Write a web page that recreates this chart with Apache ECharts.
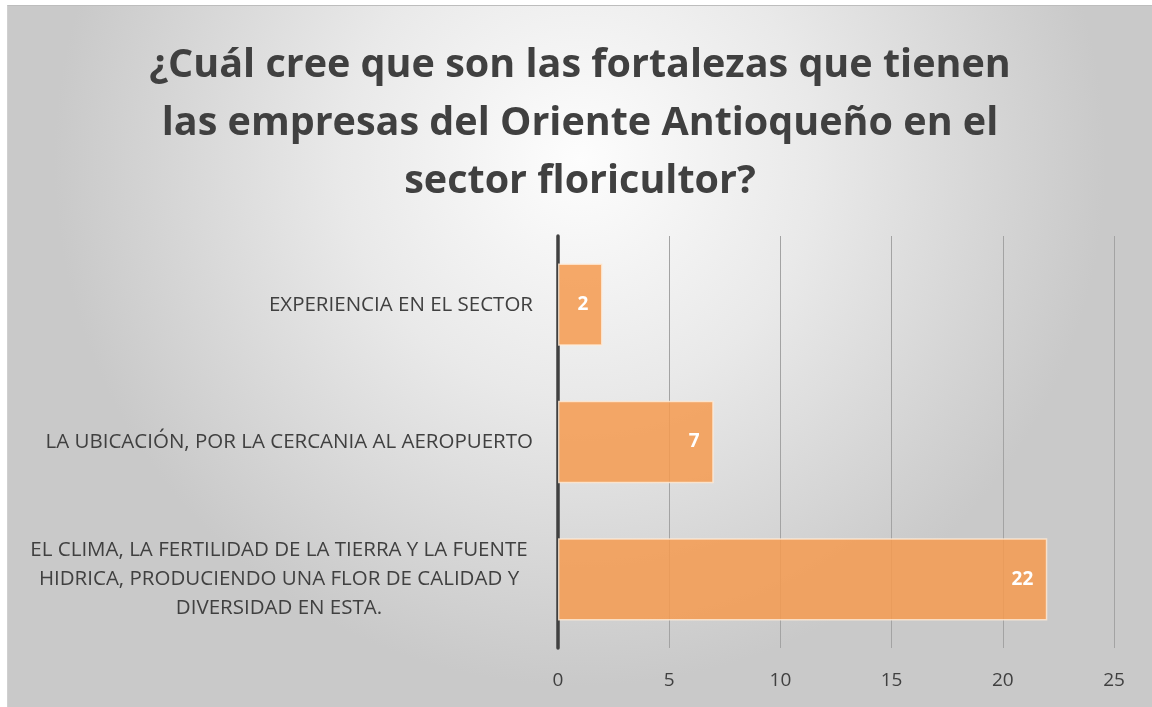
<!DOCTYPE html>
<html>
<head>
<meta charset="utf-8">
<script src="https://cdn.jsdelivr.net/npm/echarts@6/dist/echarts.min.js"></script>
<style>
  html, body { margin: 0; padding: 0; background: #ffffff; }
  #frame {
    position: absolute; left: 7px; top: 5px; width: 1145px; height: 702px;
    border-top: 1px solid #bdbdbd; border-left: 1px solid #d0d0d0; box-sizing: border-box;
  }
  #container { width: 100%; height: 100%; }
</style>
</head>
<body>
<div id="frame"><div id="container"></div></div>
<script>
// categorias de abajo hacia arriba (orden del eje en ECharts)
var categories = [
    'EL CLIMA, LA FERTILIDAD DE LA TIERRA Y LA FUENTE\nHIDRICA, PRODUCIENDO UNA FLOR DE CALIDAD Y\nDIVERSIDAD EN ESTA.',
    'LA UBICACIÓN, POR LA CERCANIA AL AEROPUERTO',
    'EXPERIENCIA EN EL SECTOR'
];
var values = [22, 7, 2];
var xTicks = [0, 5, 10, 15, 20, 25];

var chartTitle = '¿Cuál cree que son las fortalezas que tienen\nlas empresas del Oriente Antioqueño en el\nsector floricultor?';

var dom = document.getElementById('container');
var myChart = echarts.init(dom);

var option = {
    backgroundColor: new echarts.graphic.RadialGradient(0.5, 0.22, 0.75, [
        { offset: 0, color: '#fdfdfd' },
        { offset: 0.45, color: '#e9e9e9' },
        { offset: 1, color: '#c9c9c9' }
    ]),
    title: {
        text: chartTitle,
        left: 'center',
        top: 26,
        textStyle: {
            fontFamily: 'Open Sans',
            fontWeight: 'bold',
            fontSize: 39.5,
            lineHeight: 58,
            color: '#404040',
            align: 'center'
        }
    },
    grid: {
        left: 550,
        right: 38,
        top: 230,
        bottom: 59,
        containLabel: false
    },
    xAxis: {
        type: 'value',
        min: xTicks[0],
        max: xTicks[xTicks.length - 1],
        interval: 5,
        axisLine: { show: false },
        axisTick: { show: false },
        splitLine: { lineStyle: { color: '#a3a3a3', width: 1 } },
        axisLabel: {
            margin: 23,
            fontFamily: 'Open Sans',
            fontSize: 19,
            color: '#404040'
        }
    },
    yAxis: {
        type: 'category',
        data: categories,
        axisLine: { lineStyle: { color: '#404040', width: 3.5 } },
        axisTick: { show: false },
        axisLabel: {
            margin: 25,
            fontFamily: 'Open Sans',
            fontSize: 20.5,
            color: '#404040',
            formatter: function (val) {
                if (val.indexOf('\n') < 0) return val;
                return val.split('\n').map(function (l) { return '{c|' + l + '}'; }).join('\n');
            },
            rich: {
                c: {
                    width: 508,
                    align: 'center',
                    fontFamily: 'Open Sans',
                    fontSize: 20.5,
                    lineHeight: 29,
                    color: '#404040'
                }
            }
        }
    },
    series: [{
        type: 'bar',
        data: values,
        barWidth: '60%',
        itemStyle: {
            color: 'rgba(245, 155, 80, 0.86)',
            borderColor: 'rgba(255, 235, 215, 0.8)',
            borderWidth: 1.5
        },
        label: {
            show: true,
            position: 'insideRight',
            distance: 14,
            fontFamily: 'Open Sans',
            fontWeight: 'bold',
            fontSize: 19,
            color: '#ffffff'
        },
        z: 3
    }]
};

myChart.setOption(option);
</script>
</body>
</html>
